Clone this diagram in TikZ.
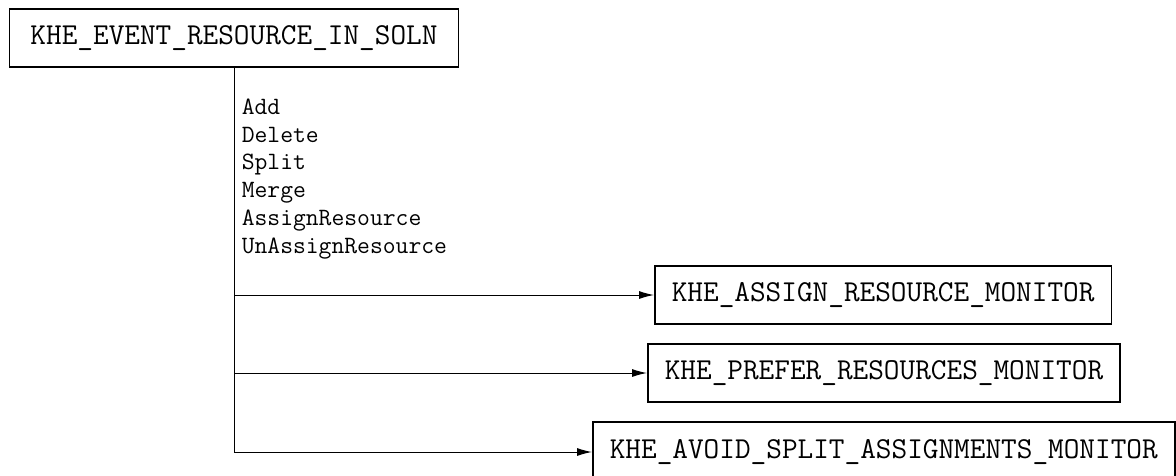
\documentclass[tikz,border=0pt]{standalone}
\usepackage{fontspec}
\usetikzlibrary{arrows.meta,positioning}

\begin{document}
\begin{tikzpicture}[x=1pt, y=-1pt, >={Latex[length=15pt,width=8pt]},
  every node/.style={inner xsep=17pt, inner ysep=0pt, minimum height=58pt, rectangle, draw, line width=1.6pt,
    font=\ttfamily\fontsize{30.4}{34}\selectfont}]
\useasboundingbox (0,0) rectangle (1176,475);

\node[inner xsep=21pt] (soln) at (234,38) {KHE\_EVENT\_RESOURCE\_IN\_SOLN};
\node[anchor=west] (assign) at (654,295) {KHE\_ASSIGN\_RESOURCE\_MONITOR};
\node[anchor=west] (prefer) at (647,373) {KHE\_PREFER\_RESOURCES\_MONITOR};
\node[anchor=west, minimum height=60pt] (avoid) at (592,452) {KHE\_AVOID\_SPLIT\_ASSIGNMENTS\_MONITOR};

\coordinate (b1) at (soln.south |- assign.west);
\coordinate (b2) at (soln.south |- prefer.west);
\coordinate (b3) at (soln.south |- avoid.west);

\node[draw=none, inner sep=0pt, minimum height=0pt, anchor=north west, align=left,
  font=\ttfamily\fontsize{24.9}{27.8}\selectfont] (ops) at (241,98)
  {Add\\Delete\\Split\\Merge\\AssignResource\\UnAssignResource};

\draw[line width=1pt] (soln.south) -- (b3);
\draw[->, line width=1pt] (b1) -- (assign);
\draw[->, line width=1pt] (b2) -- (prefer);
\draw[->, line width=1pt] (b3) -- (avoid);
\end{tikzpicture}
\end{document}
